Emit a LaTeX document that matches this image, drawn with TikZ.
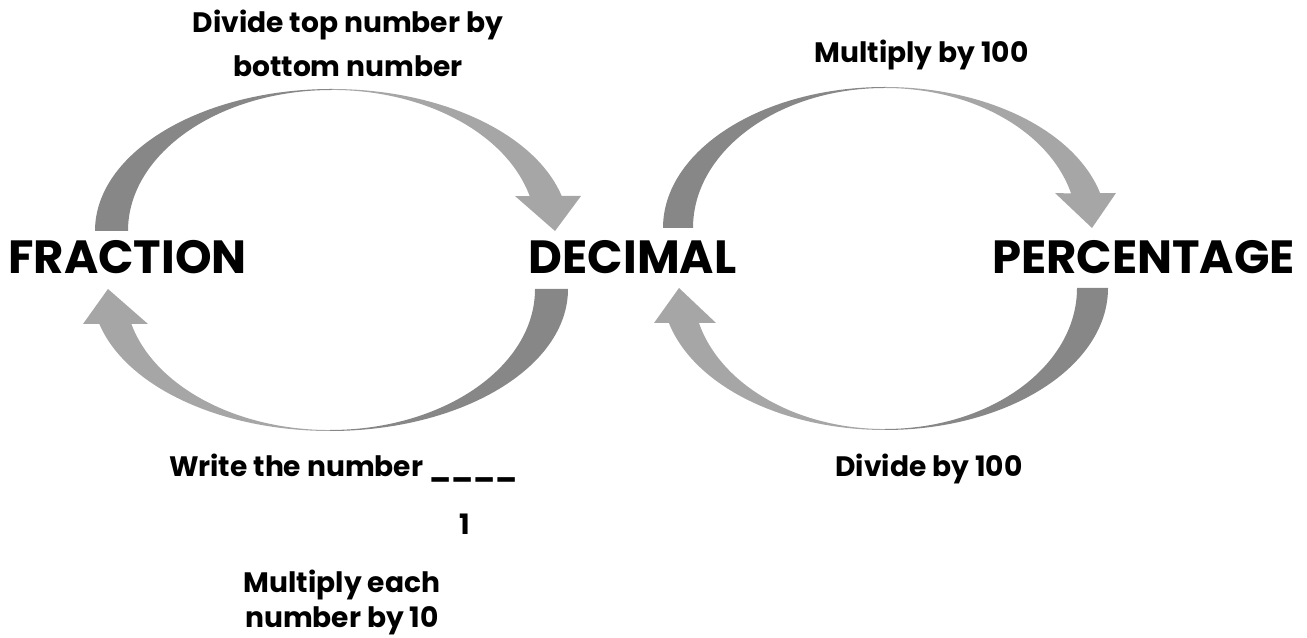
\documentclass[tikz,border=0pt]{standalone}
\usepackage{fontspec}
\setmainfont{Poppins}
\usepackage{tikz}
\usetikzlibrary{positioning,calc}
\definecolor{myDARKGREY}{HTML}{878787}
\definecolor{myLIGHTGREY}{HTML}{A6A6A6}

\begin{document}
\begin{tikzpicture}[x=0.02cm, y=0.02cm,
    bigword/.style={font=\fontsize{26.5}{30}\bfseries\selectfont, anchor=base, inner sep=0pt},
    note/.style={font=\fontsize{16}{20}\bfseries\selectfont, anchor=base, inner sep=0pt, align=center}]
    \useasboundingbox (0,0) rectangle (1307,638);
    % Nodes
    \node[bigword] (fraction) at (127.5,364) {FRACTION};
    \node[bigword] (decimal) at (632.5,364) {DECIMAL};
    \node[bigword] (percentage) at (1143.5,364) {PERCENTAGE};
    \node[note] (divtop) at (348,605) {Divide top number by};
    \node[note, below=0.88cm of divtop.base, anchor=base] (divbottom) {bottom number};
    \node[note] (mult100) at (921.5,575) {Multiply by 100};
    \node[note] (write) at (343,161) {Write the number \_\_\_\_};
    \node[note] (one) at (465,103) {1};
    \node[note] (multeach) at (342,45) {Multiply each};
    \node[note, below=0.7cm of multeach.base, anchor=base] (multnum) {number by 10};
    \node[note] (div100) at (929,161) {Divide by 100};

    % Arrows
    % fraction -> decimal
    \fill[myDARKGREY] (95,407) arc[start angle=180, end angle=90, x radius=237, y radius=142] -- (332,548)
        arc[start angle=90, end angle=180, x radius=204, y radius=141] -- cycle;
    \fill[myLIGHTGREY] (332,549) arc[start angle=90, end angle=14.27, x radius=237, y radius=142]
        -- (581,442) -- (555,407) -- (515,442) -- (529.7,441.8)
        arc[start angle=14.27, end angle=90, x radius=204, y radius=141] -- cycle;
    % decimal -> fraction
    \fill[myDARKGREY] (568,349) arc[start angle=0, end angle=-90, x radius=238, y radius=142] -- (330,208)
        arc[start angle=-90, end angle=0, x radius=205, y radius=141] -- cycle;
    \fill[myLIGHTGREY] (330,207) arc[start angle=-90, end angle=-165.73, x radius=238, y radius=142]
        -- (83,314) -- (108,349) -- (148,314) -- (131.3,314.2)
        arc[start angle=-165.73, end angle=-90, x radius=205, y radius=141] -- cycle;
    % decimal -> percentage
    \fill[myDARKGREY] (663,410) arc[start angle=180, end angle=90, x radius=222, y radius=141] -- (885,550)
        arc[start angle=90, end angle=180, x radius=192, y radius=140] -- cycle;
    \fill[myLIGHTGREY] (885,551) arc[start angle=90, end angle=14.27, x radius=222, y radius=141]
        -- (1116,445) -- (1092,410) -- (1055,445) -- (1071.1,444.5)
        arc[start angle=14.27, end angle=90, x radius=192, y radius=140] -- cycle;
    % percentage -> decimal
    \fill[myDARKGREY] (1108,350) arc[start angle=0, end angle=-90, x radius=223, y radius=142] -- (885,209)
        arc[start angle=-90, end angle=0, x radius=192, y radius=141] -- cycle;
    \fill[myLIGHTGREY] (885,208) arc[start angle=-90, end angle=-165.73, x radius=223, y radius=142]
        -- (654,315) -- (679,350) -- (716,315) -- (698.9,315.2)
        arc[start angle=-165.73, end angle=-90, x radius=192, y radius=141] -- cycle;
\end{tikzpicture}
\end{document}
